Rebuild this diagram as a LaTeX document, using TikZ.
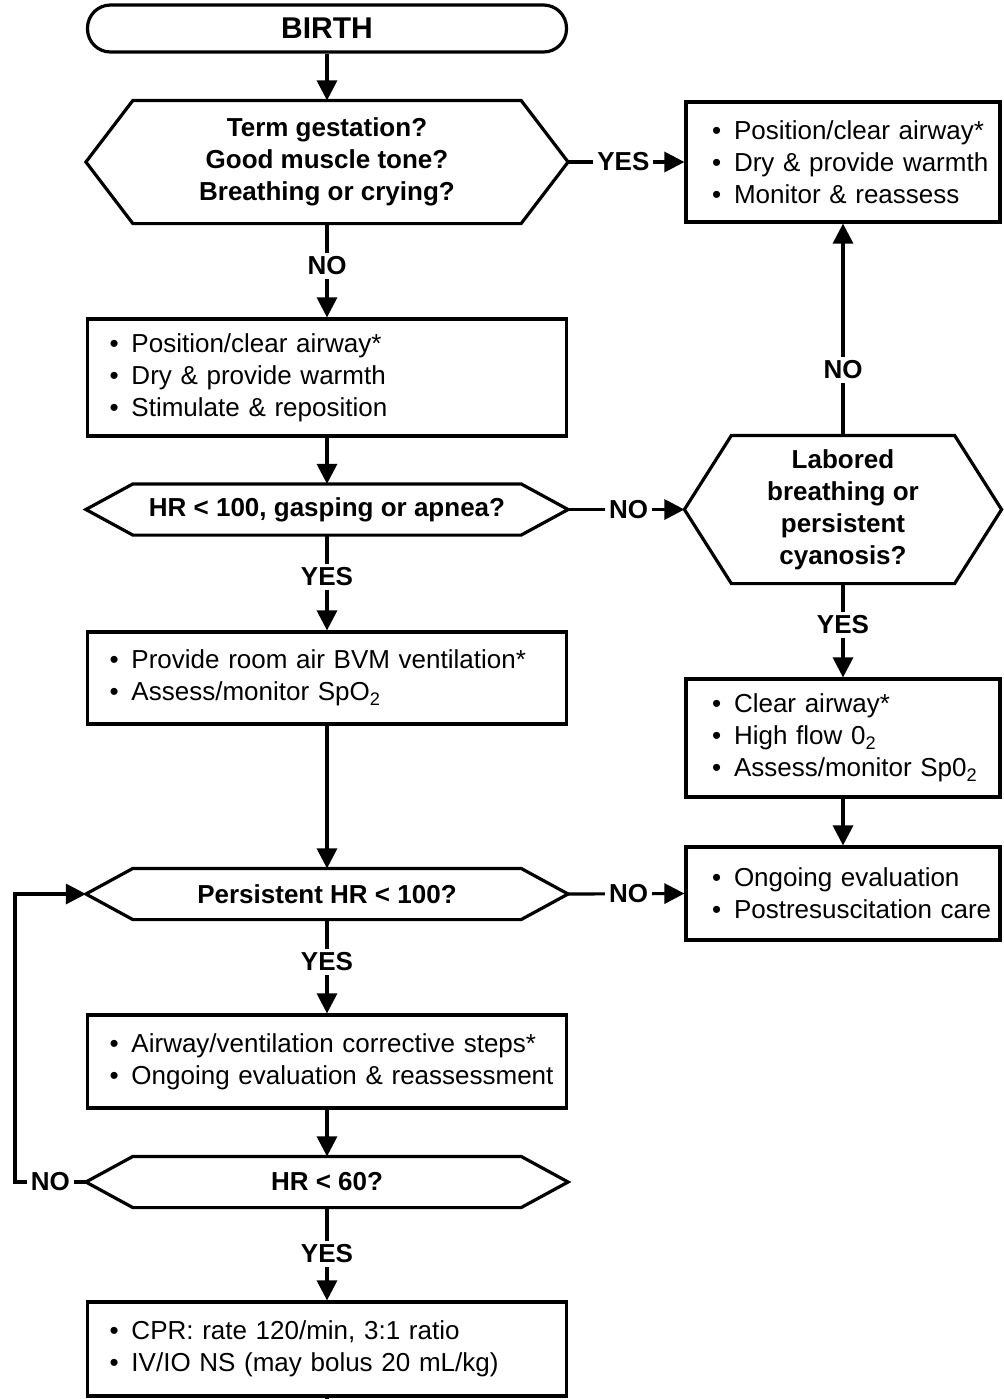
\documentclass[tikz,border=0pt]{standalone}
\usepackage{fontspec}
\setmainfont{Liberation Sans}
\usetikzlibrary{arrows.meta}
\newcommand{\itm}[1]{\mbox{\makebox[11pt][l]{\textbullet}#1}}

\begin{document}
\begin{tikzpicture}[x=0.5pt, y=-0.5pt, line width=1.6pt,
startnode/.style={rectangle, draw, rounded corners=11.5pt, minimum width=239.5pt, minimum height=23.5pt, font=\fontsize{15pt}{18pt}\selectfont\bfseries},
leftbox/.style={rectangle, draw, inner xsep=11pt, inner ysep=0pt, text width=217.5pt, align=left, font=\fontsize{13pt}{16pt}\selectfont},
rightbox/.style={rectangle, draw, inner xsep=13pt, inner ysep=0pt, text width=131pt, align=left, font=\fontsize{13pt}{16pt}\selectfont},
decision/.style={rectangle, minimum width=239.5pt, inner sep=0pt, align=center, font=\fontsize{13pt}{16pt}\selectfont\bfseries,
    append after command={\pgfextra{\draw (\tikzlastnode.west) -- ([xshift=23.5pt]\tikzlastnode.north west) -- ([xshift=-23.5pt]\tikzlastnode.north east) -- (\tikzlastnode.east) -- ([xshift=-23.5pt]\tikzlastnode.south east) -- ([xshift=23.5pt]\tikzlastnode.south west) -- cycle;}}},
lbl/.style={fill=white, inner sep=2pt, font=\fontsize{13pt}{16pt}\selectfont\bfseries},
arrow/.style={-{Triangle[length=10pt, width=10pt]}},
]
\useasboundingbox (0,0) rectangle (1004,1399);
%Nodes
\node[startnode] at (327,28.5) (birth) {BIRTH};
\node[decision, minimum height=60pt] at (327,162) (q1) {Term gestation?\\Good muscle tone?\\Breathing or crying?};
\node[rightbox, minimum height=60pt] at (843,162) (warm) {\itm{Position/clear airway*}\\\itm{Dry \& provide warmth}\\\itm{Monitor \& reassess}};
\node[leftbox, minimum height=58.5pt] at (327,377.5) (stim) {\itm{Position/clear airway*}\\\itm{Dry \& provide warmth}\\\itm{Stimulate \& reposition}};
\node[decision, minimum height=24pt] at (327,509.5) (q2) {HR < 100, gasping or apnea?};
\node[decision, minimum width=157pt, minimum height=72.5pt] at (843,509.5) (q3) {Labored\\breathing or\\persistent\\cyanosis?};
\node[leftbox, minimum height=46pt] at (327,678) (bvm) {\itm{Provide room air BVM ventilation*}\\\itm{Assess/monitor SpO\textsubscript{2}}};
\node[rightbox, minimum height=59pt] at (843,738) (oxy) {\itm{Clear airway*}\\\itm{High flow 0\textsubscript{2}}\\\itm{Assess/monitor Sp0\textsubscript{2}}};
\node[rightbox, minimum height=46.5pt] at (843,893.5) (care) {\itm{Ongoing evaluation}\\\itm{Postresuscitation care}};
\node[decision, minimum height=24pt] at (327,894) (q4) {Persistent HR < 100?};
\node[leftbox, minimum height=46.5pt] at (327,1061.5) (steps) {\itm{Airway/ventilation corrective steps*}\\\itm{Ongoing evaluation \& reassessment}};
\node[decision, minimum height=24pt] at (327,1182) (q5) {HR < 60?};
\node[leftbox, minimum height=47pt] at (327,1349) (cpr) {\itm{CPR: rate 120/min, 3:1 ratio}\\\itm{IV/IO NS (may bolus 20 mL/kg)}};
\coordinate (loop) at (15,1182);
\coordinate (stub) at (327,1399);
%Lines
\draw[arrow] (birth.south) -- (q1.north);
\draw[arrow] (q1.east) -- node[lbl, pos=0.475] {YES} (warm.west);
\draw[arrow] (q1.south) -- node[lbl, pos=0.45] {NO} (stim.north);
\draw[arrow] (stim.south) -- (q2.north);
\draw[arrow] (q2.east) -- node[lbl, pos=0.52] {NO} (q3.west);
\draw[arrow] (q3.north) -- node[lbl, pos=0.31] {NO} (warm.south);
\draw[arrow] (q3.south) -- node[lbl, pos=0.44] {YES} (oxy.north);
\draw[arrow] (oxy.south) -- (care.north);
\draw[arrow] (q2.south) -- node[lbl, pos=0.44] {YES} (bvm.north);
\draw[arrow] (bvm.south) -- (q4.north);
\draw[arrow] (q4.east) -- node[lbl, pos=0.52] {NO} (care.west);
\draw[arrow] (q4.south) -- node[lbl, pos=0.45] {YES} (steps.north);
\draw[arrow] (steps.south) -- (q5.north);
\draw[arrow] (q5.west) -- node[lbl] {NO} (loop) |- (q4.west);
\draw[arrow] (q5.south) -- node[lbl, pos=0.5] {YES} (cpr.north);
\draw (cpr.south) -- (stub);
\end{tikzpicture}
\end{document}
